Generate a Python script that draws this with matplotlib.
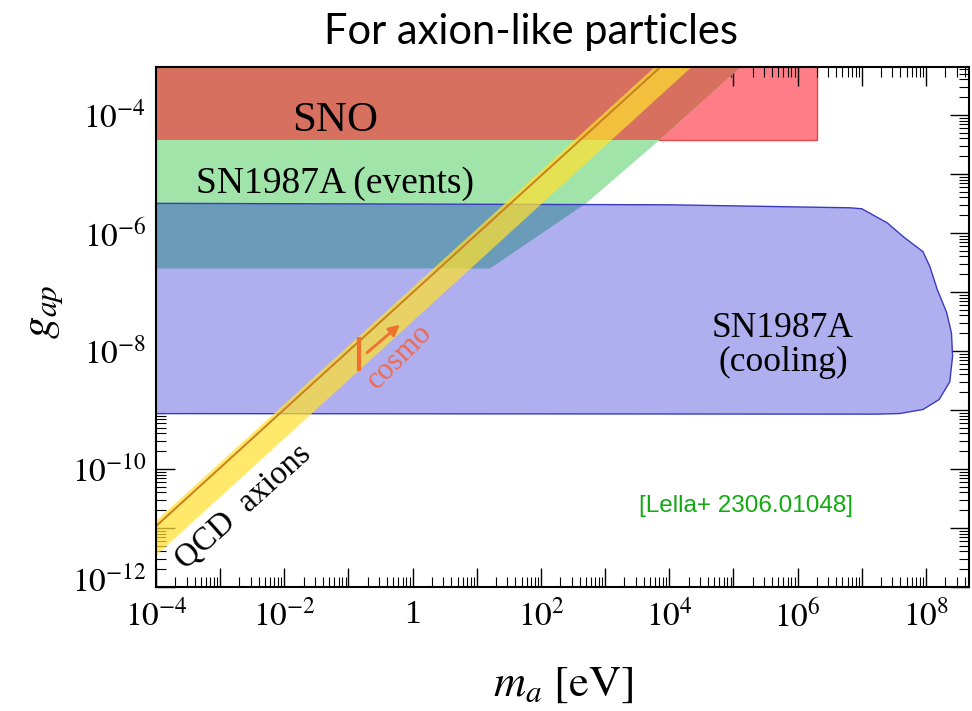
import math
import matplotlib
matplotlib.use('Agg')
import matplotlib.pyplot as plt
import matplotlib.transforms as mtransforms
from matplotlib.ticker import FixedLocator, FuncFormatter, LogLocator, NullFormatter

plt.rcParams['font.family'] = 'Liberation Serif'
plt.rcParams['mathtext.fontset'] = 'stix'

# SNO bound (rectangle)
sno_m = [1e-5, 2e6, 2e6, 1e-5]
sno_g = [3.8e-5, 3.8e-5, 1e-2, 1e-2]

# SN1987A (events)
ev_m = [1e-5, 16, 510, 7.1e3, 1.3e5, 2e6, 1e-5]
ev_g = [2.5e-7, 2.5e-7, 3.2e-6, 3.8e-5, 6.5e-4, 1e-2, 1e-2]

# SN1987A (cooling)
cool_m = [1e-5, 1e4, 6.5e6, 1.0e7, 2.5e7, 4.4e7, 9e7, 1.15e8, 1.5e8, 2.1e8,
          2.5e8, 2.6e8, 2.35e8, 1.6e8, 9e7, 3.9e7, 1.7e7, 1e-5]
cool_g = [3.2e-6, 3.0e-6, 2.67e-6, 2.57e-6, 1.48e-6, 8.7e-7, 4.8e-7, 2.7e-7, 1.1e-7, 4.5e-8,
          2.0e-8, 8.1e-9, 3.0e-9, 1.5e-9, 1.02e-9, 8.7e-10, 8.5e-10, 8.7e-10]

# QCD axion band
qcd_m = [1e-5, 1e5]
qcd_g = [1.1e-12, 8.7e-3]
qcd_up = [1.4e-12, 1.1e-2]
qcd_lo = [3.6e-13, 3.0e-3]

# cosmo marker
cosmo_bar_m = [0.145, 0.145]
cosmo_bar_g = [1.7e-8, 4.5e-9]
cosmo_arrow_m = [0.18, 0.68]
cosmo_arrow_g = [8.7e-9, 3.0e-8]

x_major = [10.0**k for k in range(-4, 10)]
y_major = [10.0**k for k in range(-12, -2)]

fig = plt.figure(figsize=(9.72, 7.11), dpi=100)
ax = fig.add_axes([0.1605, 0.1744, 0.8365, 0.7314])
ax.set_xscale('log')
ax.set_yscale('log')

red = ax.fill(sno_m, sno_g, facecolor='#ff7d87', edgecolor='#e04850', lw=1.0, zorder=1)[0]
green = ax.fill(ev_m, ev_g, facecolor='#a0e4aa', lw=0, zorder=2)[0]
blue = ax.fill(cool_m, cool_g, facecolor='#afaff0', lw=0, zorder=3)[0]

# overlaps
ov1 = ax.fill(ev_m, ev_g, facecolor='#d7705f', lw=0, zorder=4)[0]
ov1.set_clip_path(red)
ov2 = ax.fill(ev_m, ev_g, facecolor='#6a9bb9', lw=0, zorder=4)[0]
ov2.set_clip_path(blue)
ax.plot(cool_m + cool_m[:1], cool_g + cool_g[:1], color='#3a3ac0', lw=1.0, zorder=5)

ax.fill_between(qcd_m, qcd_lo, qcd_up, color='#ffe030', alpha=0.72, lw=0, zorder=6)
ax.plot(qcd_m, qcd_g, color='#c8801e', lw=1.4, zorder=7)

ax.plot(cosmo_bar_m, cosmo_bar_g, color='#f07030', lw=3, zorder=8, solid_capstyle='butt')
ax.annotate('', xy=(cosmo_arrow_m[1], cosmo_arrow_g[1]), xytext=(cosmo_arrow_m[0], cosmo_arrow_g[0]),
            arrowprops=dict(arrowstyle='-|>', color='#f07030', lw=2, mutation_scale=16), zorder=8)

ax.text(0.062, 7.9e-5, 'SNO', fontsize=31, ha='center', va='center', zorder=9)
ax.text(0.062, 6.8e-6, 'SN1987A (events)', fontsize=27, ha='center', va='center', zorder=9)
ax.text(5.9e5, 1.23e-8, 'SN1987A\n(cooling)', fontsize=25.5, ha='center', va='center',
        linespacing=1.05, zorder=9)
ax.text(2.3e-3, 2.3e-11, 'QCD  axions', fontsize=23.5, ha='center', va='center',
        rotation=42, rotation_mode='anchor', zorder=9)
ax.text(0.63, 8.1e-9, 'cosmo', fontsize=22, color='#f06a50', ha='center', va='center',
        rotation=45, rotation_mode='anchor', zorder=9)
ax.text(1.55e5, 2.4e-11, '[Lella+ 2306.01048]', fontsize=17.5, color='#11aa11',
        family='Liberation Sans', ha='center', va='center', zorder=9)

ax.set_xlim(1e-4, 4.7e8)
ax.set_ylim(1e-12, 6.5e-4)


def xfmt(v, pos):
    k = int(round(math.log10(v)))
    if k % 2:
        return ''
    if k == 0:
        return '1'
    return r'$10^{%d}$' % k


def yfmt(v, pos):
    k = int(round(math.log10(v)))
    if k % 2:
        return ''
    return r'$10^{%d}$' % k


ax.xaxis.set_major_locator(FixedLocator(x_major))
ax.yaxis.set_major_locator(FixedLocator(y_major))
ax.xaxis.set_minor_locator(LogLocator(base=10, subs=range(2, 10), numticks=200))
ax.yaxis.set_minor_locator(LogLocator(base=10, subs=range(2, 10), numticks=200))
ax.xaxis.set_minor_formatter(NullFormatter())
ax.yaxis.set_minor_formatter(NullFormatter())
ax.xaxis.set_major_formatter(FuncFormatter(xfmt))
ax.yaxis.set_major_formatter(FuncFormatter(yfmt))
ax.tick_params(which='both', direction='in', top=True, right=True, labelsize=24)
ax.tick_params(which='major', length=14, width=1.0, pad=7)
ax.tick_params(which='minor', length=7, width=0.8)
ax.tick_params(axis='x', which='major', pad=9)
for s in ax.spines.values():
    s.set_linewidth(1.5)
    s.set_zorder(10)

# lift the bottom y label a little, as in the original
lab = ax.yaxis.get_major_ticks()[0].label1
lab.set_transform(lab.get_transform() + mtransforms.ScaledTranslation(0, 8 / 100, fig.dpi_scale_trans))

ax.set_xlabel(r'$m_a\ [\mathrm{eV}]$', fontsize=32, va='center')
ax.xaxis.set_label_coords(0.5, -0.188)
ax.set_ylabel(r'$g_{ap}$', fontsize=32, va='center')
ax.yaxis.set_label_coords(-0.1365, 0.53)

fig.text(531 / 972, 1 - 32 / 711, 'For axion-like particles', fontsize=30,
         family=['Lato', 'DejaVu Sans'], ha='center', va='center')

fig.savefig('out.png', dpi=100)
